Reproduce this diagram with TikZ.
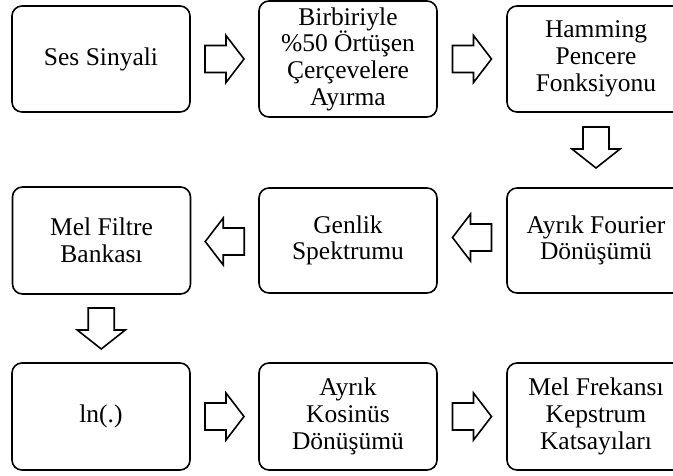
\documentclass[tikz,border=0pt]{standalone}
\usepackage{fontspec}
\setmainfont{Liberation Serif}
\usetikzlibrary{calc}
\tikzset{
  box/.style={draw, line width=1.6pt, rounded corners=10pt, align=center,
    minimum width=178pt, minimum height=106pt, inner sep=0pt,
    font=\fontsize{25.5}{26.7}\selectfont},
  blk/.style={draw, line width=1.6pt, line join=miter},
  pics/rarr/.style={code={\draw[blk] (-19.5,-13.5) -- (1.5,-13.5) -- (1.5,-23.5) -- (19.5,0) -- (1.5,23.5) -- (1.5,13.5) -- (-19.5,13.5) -- cycle;}},
  pics/larr/.style={code={\draw[blk] (19.5,-13.5) -- (-1.5,-13.5) -- (-1.5,-23.5) -- (-19.5,0) -- (-1.5,23.5) -- (-1.5,13.5) -- (19.5,13.5) -- cycle;}},
  pics/darr/.style={code={\draw[blk] (-13,-20.5) -- (-13,1.5) -- (-24,1.5) -- (0,20.5) -- (24,1.5) -- (13,1.5) -- (13,-20.5) -- cycle;}},
}
\begin{document}
\begin{tikzpicture}[x=1pt,y=-1pt]
\useasboundingbox (0,0) rectangle (673,475);
\clip (0,0) rectangle (673,475);
% row 1
\node[box] (b1) at (101,59) {Ses Sinyali};
\node[box, minimum height=116pt] (b2) at (348,59) {Birbiriyle\\\%50 Örtüşen\\Çerçevelere\\Ayırma};
\node[box] (b3) at (596,59) {Hamming\\Pencere\\Fonksiyonu};
% row 2
\node[box, minimum height=105pt] (b4) at (596,240.5) {Ayrık Fourier\\Dönüşümü};
\node[box, minimum height=105pt] (b5) at (348,240.5) {Genlik\\Spektrumu};
\node[box, minimum height=107pt] (b6) at (101.5,240.5) {Mel Filtre\\Bankası};
% row 3
\node[box, minimum height=107pt] (b7) at (101,416.5) {ln(.)};
\node[box, minimum height=107pt] (b8) at (348,416.5) {Ayrık\\Kosinüs\\Dönüşümü};
\node[box, minimum height=107pt] (b9) at (596,416.5) {Mel Frekansı\\Kepstrum\\Katsayıları};
% block arrows
\pic at ($(b1.east)!0.5!(b2.west)$) {rarr};
\pic at ($(b2.east)!0.5!(b3.west)$) {rarr};
\pic at ($(b3.south)!0.5!(b4.north)+(0,-2.5)$) {darr};
\pic at ($(b4.west)!0.5!(b5.east)+(0,-3)$) {larr};
\pic at ($(b5.west)!0.5!(b6.east)+(0,1)$) {larr};
\pic at ($(b6.south)!0.5!(b7.north)$) {darr};
\pic at ($(b7.east)!0.5!(b8.west)$) {rarr};
\pic at ($(b8.east)!0.5!(b9.west)$) {rarr};
\end{tikzpicture}
\end{document}
